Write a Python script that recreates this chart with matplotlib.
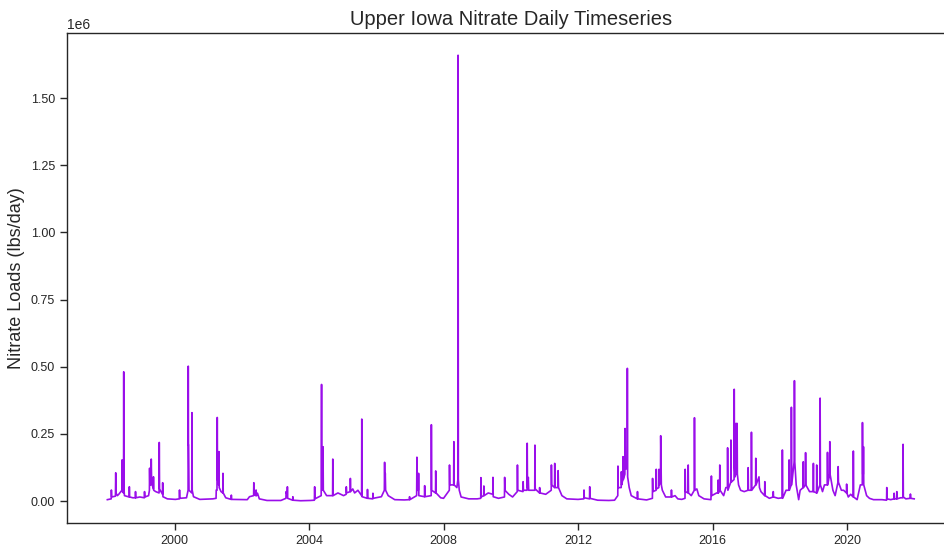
import pandas as pd
import matplotlib
matplotlib.use("Agg")
import matplotlib.pyplot as plt
import matplotlib.dates as mdates

# Upper Iowa River nitrate loads: storm peaks, their shoulders and baseflow days
dates = [
    "1998-01-01", "1998-02-12", "1998-02-14", "1998-02-17", "1998-03-30", "1998-04-02", "1998-04-05",
    "1998-04-20", "1998-05-05", "1998-06-08", "1998-06-10", "1998-06-13", "1998-06-26", "1998-06-28",
    "1998-06-30", "1998-07-06", "1998-08-26", "1998-08-28", "1998-08-31", "1998-10-05", "1998-11-01",
    "1998-11-03", "1998-11-06", "1998-12-20",
    "1999-02-07", "1999-02-09", "1999-02-12", "1999-03-25", "1999-04-03", "1999-04-05", "1999-04-08",
    "1999-04-20", "1999-04-23", "1999-04-27", "1999-05-15", "1999-05-17", "1999-05-20", "1999-06-10",
    "1999-07-17", "1999-07-19", "1999-07-22", "1999-08-23", "1999-08-25", "1999-08-28", "1999-10-15",
    "2000-01-10", "2000-02-22", "2000-02-24", "2000-02-27", "2000-05-10", "2000-05-27", "2000-05-29",
    "2000-05-31", "2000-06-02", "2000-06-06", "2000-07-06", "2000-07-08", "2000-07-11", "2000-07-25",
    "2000-10-01",
    "2001-02-20", "2001-03-27", "2001-03-29", "2001-04-06", "2001-04-09", "2001-04-12", "2001-04-24",
    "2001-04-27", "2001-04-30", "2001-05-20", "2001-06-08", "2001-06-10", "2001-06-13", "2001-07-10",
    "2001-09-07", "2001-09-09", "2001-09-12",
    "2002-03-01", "2002-03-25", "2002-05-09", "2002-05-11", "2002-05-14", "2002-06-03", "2002-06-05",
    "2002-06-08", "2002-06-20", "2002-07-10", "2002-10-01",
    "2003-03-01", "2003-04-25", "2003-04-27", "2003-05-09", "2003-05-11", "2003-05-14", "2003-07-07",
    "2003-07-09", "2003-07-12", "2003-10-01",
    "2004-01-15", "2004-02-28", "2004-03-02", "2004-03-05", "2004-05-12", "2004-05-16", "2004-05-19",
    "2004-05-29", "2004-06-01", "2004-06-04", "2004-07-10", "2004-09-13", "2004-09-15", "2004-09-18",
    "2004-11-10",
    "2005-01-10", "2005-02-07", "2005-02-09", "2005-02-12", "2005-03-23", "2005-03-25", "2005-03-28",
    "2005-04-20", "2005-05-10", "2005-06-15", "2005-07-25", "2005-07-27", "2005-07-30", "2005-09-25",
    "2005-09-27", "2005-09-30", "2005-11-23", "2005-11-25", "2005-11-28",
    "2006-02-25", "2006-03-29", "2006-04-01", "2006-04-04", "2006-04-08", "2006-04-12", "2006-05-10",
    "2006-07-20", "2006-11-01", "2006-12-26", "2006-12-28", "2006-12-31",
    "2007-03-15", "2007-03-18", "2007-03-21", "2007-04-03", "2007-04-05", "2007-04-08", "2007-06-08",
    "2007-06-10", "2007-06-13", "2007-08-20", "2007-08-22", "2007-08-25", "2007-10-06", "2007-10-08",
    "2007-10-12", "2007-12-01",
    "2008-01-01", "2008-03-04", "2008-03-06", "2008-03-09", "2008-03-20", "2008-04-20", "2008-04-22",
    "2008-04-25", "2008-05-25", "2008-06-05", "2008-06-07", "2008-06-10", "2008-06-20", "2008-07-10",
    "2008-10-01",
    "2009-01-01", "2009-02-08", "2009-02-10", "2009-02-13", "2009-03-12", "2009-03-14", "2009-03-17",
    "2009-05-01", "2009-06-19", "2009-06-21", "2009-06-24", "2009-08-20", "2009-10-24", "2009-10-26",
    "2009-10-29", "2009-12-10",
    "2010-01-20", "2010-03-12", "2010-03-14", "2010-03-17", "2010-05-13", "2010-05-15", "2010-05-18",
    "2010-06-26", "2010-06-28", "2010-07-01", "2010-07-10", "2010-07-14", "2010-09-18", "2010-09-20",
    "2010-09-23", "2010-11-08", "2010-11-10", "2010-11-14",
    "2011-01-15", "2011-03-16", "2011-03-18", "2011-03-21", "2011-04-21", "2011-04-23", "2011-04-26",
    "2011-05-28", "2011-05-30", "2011-06-03", "2011-07-10", "2011-09-01",
    "2012-01-01", "2012-03-04", "2012-03-06", "2012-03-09", "2012-05-05", "2012-05-07", "2012-05-10",
    "2012-08-01", "2012-12-01",
    "2013-02-01", "2013-03-08", "2013-03-10", "2013-03-13", "2013-04-14", "2013-04-16", "2013-04-19",
    "2013-05-02", "2013-05-04", "2013-05-07", "2013-05-24", "2013-05-26", "2013-05-29", "2013-06-18",
    "2013-06-20", "2013-06-23", "2013-07-10", "2013-08-01", "2013-10-06", "2013-10-08", "2013-10-11",
    "2014-01-15", "2014-03-19", "2014-03-21", "2014-03-24", "2014-04-28", "2014-04-30", "2014-05-03",
    "2014-05-28", "2014-05-30", "2014-06-02", "2014-06-15", "2014-06-17", "2014-06-20", "2014-06-24",
    "2014-07-05", "2014-08-10", "2014-10-10", "2014-10-12", "2014-10-15", "2014-11-20", "2014-12-20",
    "2015-02-01", "2015-03-08", "2015-03-10", "2015-03-13", "2015-04-10", "2015-04-12", "2015-04-15",
    "2015-05-15", "2015-06-17", "2015-06-19", "2015-06-22", "2015-07-15", "2015-08-05", "2015-10-01",
    "2015-12-15", "2015-12-20", "2015-12-24",
    "2016-02-15", "2016-03-01", "2016-03-02", "2016-03-05", "2016-03-18", "2016-03-20", "2016-03-23",
    "2016-05-01", "2016-05-25", "2016-06-11", "2016-06-13", "2016-06-16", "2016-07-17", "2016-07-19",
    "2016-07-22", "2016-08-22", "2016-08-24", "2016-08-27", "2016-09-02", "2016-09-10", "2016-09-12",
    "2016-09-15", "2016-09-22", "2016-09-24", "2016-09-27", "2016-10-10", "2016-11-01", "2016-12-10",
    "2017-01-20", "2017-01-22", "2017-01-25", "2017-02-25", "2017-02-27", "2017-03-02", "2017-04-13",
    "2017-04-15", "2017-04-18", "2017-05-20", "2017-05-25", "2017-06-10", "2017-07-20", "2017-07-22",
    "2017-07-25", "2017-09-10", "2017-10-20", "2017-10-22", "2017-10-25", "2017-12-15",
    "2018-01-27", "2018-01-29", "2018-02-01", "2018-03-10", "2018-04-10", "2018-04-12", "2018-04-15",
    "2018-05-05", "2018-05-07", "2018-05-10", "2018-06-07", "2018-06-09", "2018-06-12", "2018-06-28",
    "2018-07-25", "2018-08-10", "2018-09-11", "2018-09-13", "2018-09-16", "2018-10-06", "2018-10-08",
    "2018-10-11", "2018-11-20", "2018-12-29",
    "2019-01-01", "2019-01-04", "2019-02-04", "2019-02-06", "2019-02-09", "2019-03-13", "2019-03-15",
    "2019-03-18", "2019-04-10", "2019-05-01", "2019-06-01", "2019-06-03", "2019-06-06", "2019-06-26",
    "2019-06-28", "2019-07-01", "2019-08-01", "2019-08-25", "2019-09-25", "2019-09-27", "2019-09-30",
    "2019-11-01", "2019-11-25", "2019-12-26", "2019-12-28", "2019-12-31",
    "2020-01-15", "2020-02-10", "2020-03-08", "2020-03-10", "2020-03-13", "2020-04-20", "2020-05-25",
    "2020-06-15", "2020-06-17", "2020-06-20", "2020-06-26", "2020-06-28", "2020-07-01", "2020-08-01",
    "2020-09-01", "2020-10-15",
    "2021-01-15", "2021-03-06", "2021-03-08", "2021-03-11", "2021-04-20", "2021-05-25", "2021-05-27",
    "2021-05-30", "2021-06-23", "2021-06-25", "2021-06-28", "2021-08-05", "2021-08-30", "2021-09-01",
    "2021-09-04", "2021-10-01", "2021-11-18", "2021-11-20", "2021-11-23", "2021-12-31",
]

# thousand lbs/day, one row per year to line up with the dates above
loads_k = [
    5, 8, 41, 15, 18, 105, 30, 20, 25, 40, 153, 35, 30, 481, 45, 20, 15, 53, 15, 12, 12, 35, 12, 15,
    12, 35, 15, 20, 40, 122, 60, 60, 156, 70, 45, 90, 40, 35, 30, 218, 45, 25, 68, 16, 8,
    6, 8, 41, 10, 12, 40, 502, 208, 208, 40, 30, 329, 40, 16, 6,
    8, 10, 41, 40, 311, 80, 60, 184, 50, 35, 30, 103, 30, 12, 6, 22, 6,
    5, 16, 20, 68, 25, 20, 41, 20, 29, 8, 2,
    2, 10, 35, 20, 53, 10, 3, 16, 3, 1,
    2, 3, 53, 8, 20, 434, 60, 40, 202, 40, 20, 20, 156, 20, 30,
    20, 25, 53, 30, 35, 84, 35, 45, 30, 40, 20, 305, 16, 10, 43, 10, 8, 29, 10,
    16, 40, 144, 60, 103, 40, 20, 5, 4, 5, 16, 5,
    20, 163, 40, 40, 103, 20, 16, 57, 16, 20, 284, 40, 30, 112, 30, 12,
    10, 40, 134, 60, 60, 60, 221, 60, 50, 80, 1660, 80, 40, 15, 8,
    8, 10, 87, 15, 20, 56, 20, 30, 25, 88, 16, 10, 15, 88, 40, 25,
    15, 35, 134, 40, 35, 72, 40, 40, 215, 50, 88, 40, 40, 208, 45, 30, 50, 30,
    25, 40, 134, 60, 50, 140, 50, 50, 113, 50, 20, 8,
    6, 8, 41, 12, 8, 53, 10, 3, 2,
    3, 20, 130, 50, 50, 109, 60, 80, 165, 80, 100, 270, 120, 120, 494, 90, 50, 20, 8, 35, 8,
    4, 10, 84, 35, 40, 118, 45, 50, 118, 60, 80, 243, 160, 60, 40, 15, 15, 41, 15, 20, 8,
    6, 10, 118, 35, 30, 134, 30, 20, 40, 310, 40, 45, 20, 8, 5, 93, 20,
    30, 30, 78, 30, 40, 134, 40, 20, 50, 50, 198, 40, 70, 227, 70, 80, 416, 130, 90, 100, 289,
    100, 100, 289, 100, 60, 40, 35,
    40, 124, 40, 40, 256, 40, 60, 159, 60, 90, 50, 35, 20, 72, 20, 10, 15, 35, 15, 10,
    12, 190, 10, 40, 40, 153, 40, 60, 349, 60, 150, 448, 150, 60, 5, 40, 50, 146, 50, 60, 180,
    60, 35, 35,
    140, 35, 30, 134, 30, 60, 383, 60, 35, 60, 60, 181, 60, 100, 221, 100, 40, 20, 70, 128, 70,
    40, 40, 30, 63, 30,
    15, 25, 15, 186, 15, 5, 60, 60, 292, 100, 100, 202, 60, 20, 10, 5,
    5, 3, 50, 8, 5, 8, 29, 8, 8, 35, 8, 12, 12, 211, 15, 8, 10, 26, 10, 8,
]

loads = [v * 1000 for v in loads_k]

plt.rcParams['font.family'] = ['Liberation Sans', 'DejaVu Sans']
plt.rcParams['text.color'] = '.15'
plt.rcParams['axes.labelcolor'] = '.15'
plt.rcParams['xtick.color'] = '.15'
plt.rcParams['ytick.color'] = '.15'

fig = plt.figure(figsize=(9.45, 5.48), dpi=100)
# axes run slightly past the right edge of the canvas
ax = fig.add_axes([0.0709, 0.0456, 0.9392, 0.8942])

ax.plot(pd.to_datetime(dates), loads, color='#9a0eea', linewidth=1.2)

ax.set_title("Upper Iowa Nitrate Daily Timeseries", fontsize=14.5)
ax.set_ylabel("Nitrate Loads (lbs/day)", fontsize=13)
ax.xaxis.set_major_locator(mdates.YearLocator(4))
ax.xaxis.set_major_formatter(mdates.DateFormatter('%Y'))
ax.tick_params(labelsize=9, length=5, width=1, direction='out')
for sp in ax.spines.values():
    sp.set_color('.15')
    sp.set_linewidth(1.0)

fig.savefig("out.png", dpi=100)
